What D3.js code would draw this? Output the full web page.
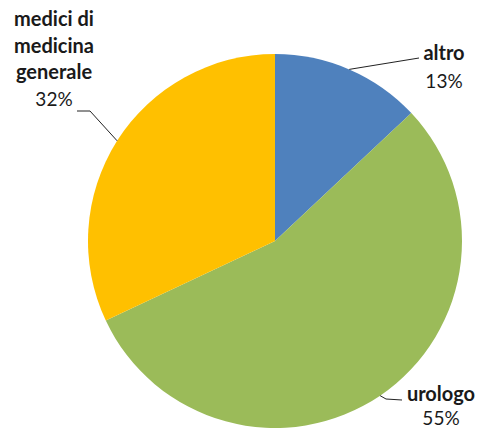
<!DOCTYPE html>
<html>
<head>
<meta charset="utf-8">
<script src="https://cdn.jsdelivr.net/npm/d3@7/dist/d3.min.js"></script>
<style>
  html, body { margin: 0; padding: 0; background: #ffffff; }
  svg { display: block; }
  .name { font-family: Lato, "Open Sans", sans-serif; font-weight: 700; font-size: 20px; fill: #1a1a1a; }
  .pct { font-family: Lato, "Open Sans", sans-serif; font-weight: 400; font-size: 19px; fill: #1a1a1a; }
</style>
</head>
<body>
<script>
// Slices in drawing order, clockwise from 12 o'clock
const categories = ["altro", "urologo", "medici di medicina generale"];
const labelLines = [["altro"], ["urologo"], ["medici di", "medicina", "generale"]];
const values = [13, 55, 32];
const colors = ["#4F81BD", "#9BBB59", "#FFC000"];

const W = 480, H = 430;
const cx = 275, cy = 241, R = 187;

// Label layout: text anchor centre, first baseline, line gap and leader elbow points
const labelLayout = [
  { x: 444, y: 60, gap: 28, elbow: [[419, 58]] },
  { x: 441, y: 401, gap: 24, elbow: [[386, 399], [402, 400]] },
  { x: 54, y: 26, gap: 26.7, elbow: [[90, 111], [77, 111]] }
];

const svg = d3.select("body").append("svg").attr("width", W).attr("height", H);
const g = svg.append("g").attr("transform", `translate(${cx},${cy})`);

const pie = d3.pie().sort(null).value(d => d);
const arcs = pie(values);
const arc = d3.arc().innerRadius(0).outerRadius(R);
const rim = d3.arc().innerRadius(R).outerRadius(R);

g.selectAll("path.slice")
  .data(arcs)
  .join("path")
  .attr("class", "slice")
  .attr("d", arc)
  .attr("fill", (d, i) => colors[i]);

// Leader lines from the rim at each slice's mid-angle to its label
arcs.forEach((d, i) => {
  const p = rim.centroid(d);
  const pts = [[p[0] + cx, p[1] + cy]].concat(labelLayout[i].elbow);
  svg.append("path")
    .attr("d", d3.line()(pts))
    .attr("fill", "none")
    .attr("stroke", "#222")
    .attr("stroke-width", 1);
});

// Labels: category name lines followed by the percentage
const total = d3.sum(values);
arcs.forEach((d, i) => {
  const L = labelLayout[i];
  const t = svg.append("text").attr("text-anchor", "middle");
  labelLines[i].forEach((ln, k) => {
    t.append("tspan").attr("class", "name")
      .attr("x", L.x).attr("y", L.y + k * L.gap).text(ln);
  });
  t.append("tspan").attr("class", "pct")
    .attr("x", L.x).attr("y", L.y + labelLines[i].length * L.gap)
    .text(Math.round(d.data / total * 100) + "%");
});
</script>
</body>
</html>
